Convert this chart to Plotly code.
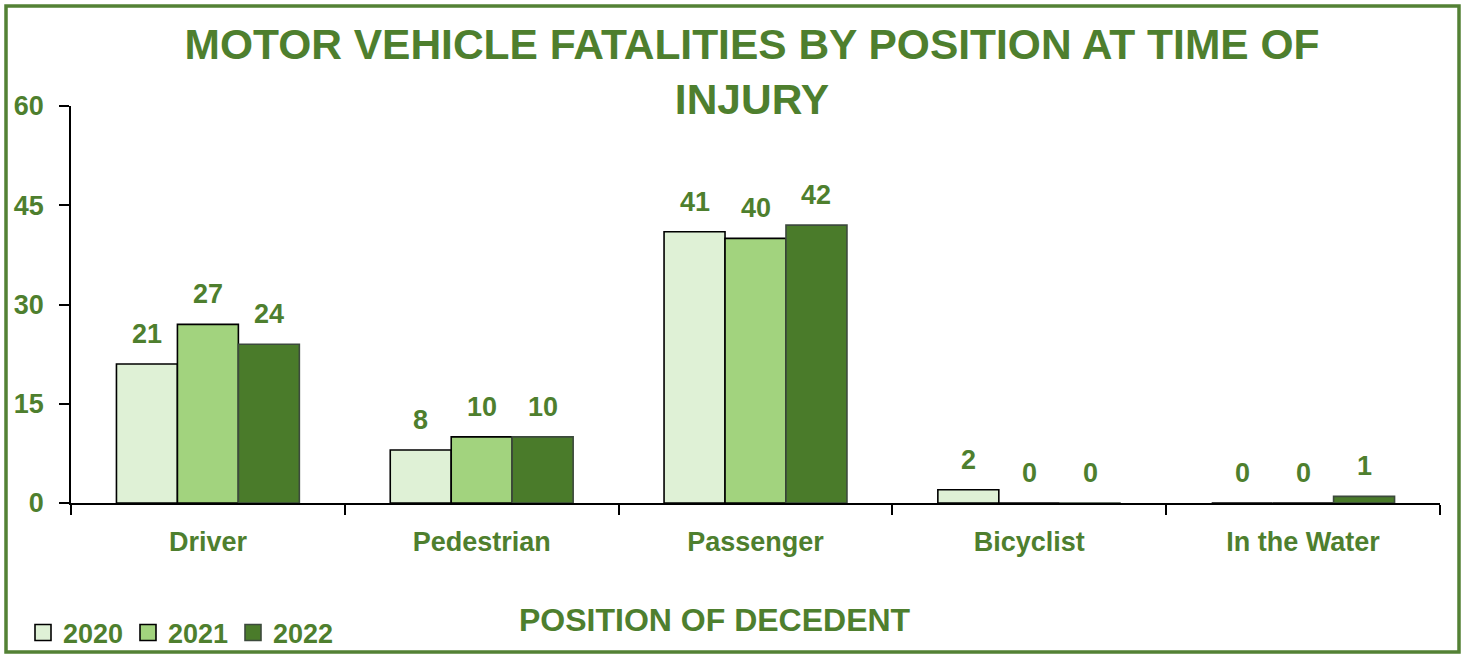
import plotly.graph_objects as go

categories = ["Driver", "Pedestrian", "Passenger", "Bicyclist", "In the Water"]
years = ["2020", "2021", "2022"]
values_2020 = [21, 8, 41, 2, 0]
values_2021 = [27, 10, 40, 0, 0]
values_2022 = [24, 10, 42, 0, 1]
y_ticks = [0, 15, 30, 45, 60]

series = [values_2020, values_2021, values_2022]
fills = ["#DFF1D6", "#A2D37E", "#4A7B2A"]
outlines = ["#000000", "#000000", "#3C4A3C"]
GREEN = "#4E7F2E"
NARROW = "Liberation Sans, Arial, sans-serif"
WIDE = "Liberation Sans, Arial, sans-serif"
LBL = dict(family=NARROW, size=27, color=GREEN, weight="bold")

W, H = 1466, 656
ML, MR, MT, MB = 71, 26, 106, 153
BARGAP = 0.332
pw, ph = W - ML - MR, H - MT - MB

fig = go.Figure()
for yr, vals, fc, lc in zip(years, series, fills, outlines):
    fig.add_trace(go.Bar(
        name=yr, x=categories, y=vals, showlegend=False,
        marker=dict(color=fc, line=dict(color=lc, width=1.6)),
    ))
# legend entries with larger square swatches
for yr, fc, lc in zip(years, fills, outlines):
    fig.add_trace(go.Scatter(
        name=yr, x=[None], y=[None], mode="markers",
        marker=dict(symbol="square", size=16, color=fc, line=dict(color=lc, width=1.6)),
    ))

# data labels above bars
slot = (1 - BARGAP) / len(years)
for i, vals in enumerate(series):
    off = (i - (len(years) - 1) / 2) * slot
    for j, v in enumerate(vals):
        fig.add_annotation(
            x=j + off, y=v, xref="x", yref="y", text=str(v),
            showarrow=False, yanchor="bottom", yshift=13, font=LBL,
        )

# x axis title
fig.add_annotation(
    x=(715 - ML) / pw, y=(H - MB - 620) / ph,
    xref="paper", yref="paper", text="POSITION OF DECEDENT",
    showarrow=False, xanchor="center", yanchor="middle",
    font=dict(family=WIDE, size=32, color=GREEN, weight="bold"),
)

# outer green border
fig.add_shape(
    type="rect", xref="paper", yref="paper",
    x0=(6 - ML) / pw, x1=(1459 - ML) / pw,
    y0=(H - MB - 652) / ph, y1=(H - MB - 6) / ph,
    line=dict(color="#538135", width=3.5), fillcolor="rgba(0,0,0,0)", layer="below",
)

fig.update_layout(
    width=W, height=H,
    margin=dict(l=ML, r=MR, t=MT, b=MB, autoexpand=False),
    paper_bgcolor="white", plot_bgcolor="white",
    barmode="group", bargap=BARGAP, bargroupgap=0,
    title=dict(
        text="MOTOR VEHICLE FATALITIES BY POSITION AT TIME OF<br>INJURY",
        x=752 / W, xanchor="center", y=1 - 59 / H, yanchor="top",
        yref="container",
        font=dict(family=WIDE, size=42.5, color=GREEN, weight="bold"),
    ),
    showlegend=True,
    legend=dict(
        orientation="h", x=(23 - ML) / pw, xanchor="left",
        y=(H - MB - 633) / ph, yanchor="middle",
        font=LBL, entrywidth=60, bgcolor="rgba(0,0,0,0)",
        traceorder="normal",
    ),
    xaxis=dict(
        automargin=False,
        showline=True, linecolor="black", linewidth=1.6,
        ticks="outside", tickson="boundaries", ticklen=10, tickcolor="black", tickwidth=1.6,
        tickfont=LBL, ticklabelstandoff=14, showgrid=False, zeroline=False,
    ),
    yaxis=dict(
        automargin=False,
        range=[0, 60], tickvals=y_ticks,
        showline=True, linecolor="black", linewidth=1.6,
        ticks="outside", ticklen=10, tickcolor="black", tickwidth=1.6,
        tickfont=LBL, ticklabelstandoff=10, showgrid=False, zeroline=False,
    ),
)

fig.write_html(
    "out.html",
    config={"displayModeBar": False},
    post_script="document.body.style.margin='0';document.body.style.overflow='hidden';",
)
